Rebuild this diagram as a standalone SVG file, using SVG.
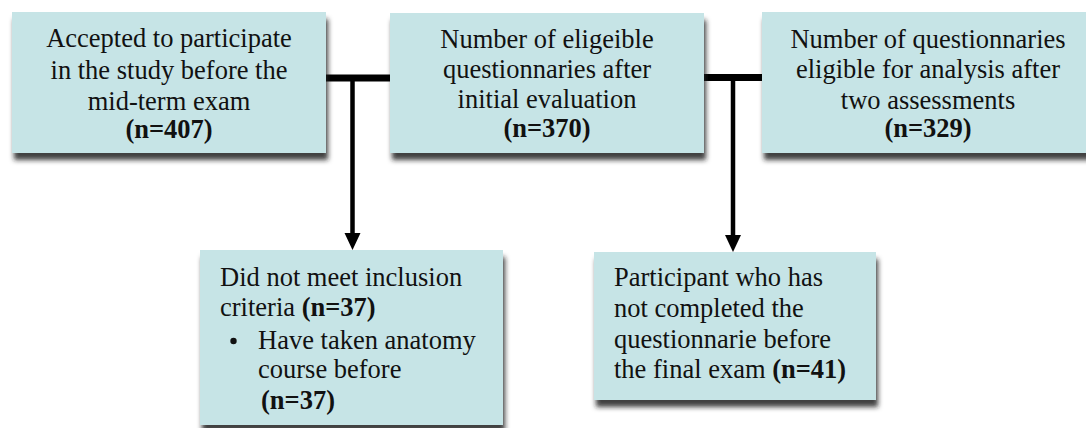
<svg xmlns="http://www.w3.org/2000/svg" width="1086" height="428" viewBox="0 0 1086 428">
<style>
.box{fill:#c6e4e6;filter:url(#sh)}
.c{text-anchor:middle}
.b{font-weight:bold}
.ln{stroke:#000;fill:none}
</style>
<defs>
<filter id="sh" x="-10%" y="-10%" width="125%" height="130%">
<feDropShadow dx="2" dy="7" stdDeviation="2.5" flood-color="#222" flood-opacity="0.85"/>
</filter>
</defs>
<g id="connectors">
<line class="ln" x1="320" y1="78" x2="396" y2="78" stroke-width="7"/>
<line class="ln" x1="700" y1="77.5" x2="768" y2="77.5" stroke-width="7"/>
<line class="ln" x1="352.5" y1="78" x2="352.5" y2="233" stroke-width="4.5"/>
<path d="M344.5,233 L360.5,233 L352.5,250 Z" fill="#000"/>
<line class="ln" x1="733" y1="77.5" x2="733" y2="235" stroke-width="4.5"/>
<path d="M725,235 L741,235 L733,252 Z" fill="#000"/>
</g>
<g id="n1" font-family="Liberation Serif" font-size="26.5" fill="#111">
<rect class="box" x="12" y="12" width="314" height="141"/>
<text class="c" x="169" y="47">Accepted to participate</text>
<text class="c" x="169" y="79">in the study before the</text>
<text class="c" x="169" y="110">mid-term exam</text>
<text class="c b" x="169" y="138">(n=407)</text>
</g>
<g id="n2" font-family="Liberation Serif" font-size="26.5" fill="#111">
<rect class="box" x="390" y="13" width="314" height="140"/>
<text class="c" x="547" y="48">Number of eligeible</text>
<text class="c" x="547" y="78">questionnaries after</text>
<text class="c" x="547" y="108">initial evaluation</text>
<text class="c b" x="547" y="137">(n=370)</text>
</g>
<g id="n3" font-family="Liberation Serif" font-size="26.5" fill="#111">
<rect class="box" x="762" y="12" width="340" height="141"/>
<text class="c" x="928" y="48">Number of questionnaries</text>
<text class="c" x="928" y="78">eligible for analysis after</text>
<text class="c" x="928" y="109">two assessments</text>
<text class="c b" x="928" y="137">(n=329)</text>
</g>
<g id="n4" font-family="Liberation Serif" font-size="26.5" fill="#111">
<rect class="box" x="200" y="250" width="303" height="175"/>
<text x="220" y="286">Did not meet inclusion</text>
<text x="220" y="316">criteria <tspan class="b">(n=37)</tspan></text>
<circle cx="233.5" cy="341" r="3.2" fill="#111"/>
<text x="258" y="349">Have taken anatomy</text>
<text x="258" y="378">course before</text>
<text class="b" x="261" y="409">(n=37)</text>
</g>
<g id="n5" font-family="Liberation Serif" font-size="26.5" fill="#111">
<rect class="box" x="594" y="252" width="282" height="148"/>
<text x="614" y="286">Participant who has</text>
<text x="614" y="317">not completed the</text>
<text x="614" y="348">questionnarie before</text>
<text x="614" y="378">the final exam <tspan class="b">(n=41)</tspan></text>
</g>
</svg>
